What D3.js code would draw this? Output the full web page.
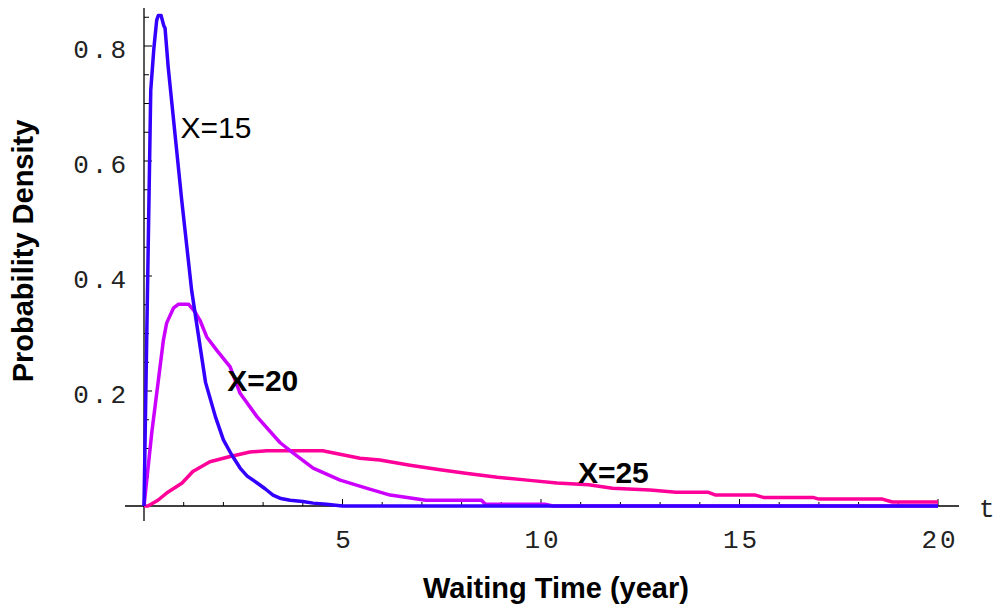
<!DOCTYPE html>
<html><head><meta charset="utf-8">
<script src="https://cdn.jsdelivr.net/npm/d3@7"></script>
<style>html,body{margin:0;padding:0;background:#fff;}</style>
</head><body>
<script>
// ---- data ----
const seriesNames = ["X=15", "X=20", "X=25"];
const seriesColors = ["#3300ff", "#cc00ff", "#ff0099"];
const x15 = [[0,0],[0.17,0.723],[0.25,0.797],[0.32,0.845],[0.36,0.853],[0.43,0.853],[0.5,0.835],[0.53,0.831],[0.61,0.763],[0.95,0.532],[1.2,0.375],[1.55,0.215],[1.8,0.155],[2.0,0.115],[2.2,0.09],[2.42,0.066],[2.6,0.052],[2.85,0.04],[3.05,0.03],[3.25,0.019],[3.45,0.013],[3.68,0.01],[4.0,0.008],[4.26,0.005],[4.6,0.003],[5.0,0],[20,0]];
const x20 = [[0,0],[0.2,0.13],[0.49,0.289],[0.57,0.318],[0.74,0.344],[0.87,0.351],[1.12,0.351],[1.28,0.338],[1.41,0.323],[1.58,0.294],[1.83,0.271],[2.17,0.242],[2.42,0.196],[2.85,0.155],[3.43,0.11],[3.76,0.092],[4.26,0.066],[4.94,0.045],[5.6,0.031],[6.2,0.019],[7.1,0.01],[8.5,0.01],[8.6,0.003],[10.1,0.003],[10.3,0],[20,0]];
const x25 = [[0,0],[0.1,0],[0.35,0.01],[0.6,0.024],[0.96,0.04],[1.23,0.06],[1.66,0.077],[2.17,0.086],[2.67,0.094],[3.1,0.096],[4.5,0.096],[5.0,0.089],[5.44,0.083],[5.94,0.08],[6.7,0.071],[7.46,0.063],[8.1,0.057],[8.9,0.05],[9.65,0.045],[10.4,0.04],[11.2,0.037],[11.8,0.031],[12.75,0.028],[13.4,0.024],[14.2,0.024],[14.4,0.019],[15.4,0.019],[15.6,0.015],[16.85,0.015],[17.0,0.012],[18.6,0.012],[18.85,0.007],[20,0.007]];
const xMajorTicks = [5, 10, 15, 20];
const xMinorTicks = d3.range(1, 21);
const yMajorTicks = [0.2, 0.4, 0.6, 0.8];
const yMinorTicks = d3.range(1, 18).map(i => i * 0.05);
const xTitle = "Waiting Time (year)";
const yTitle = "Probability Density";
const xVarLabel = "t";
const curveLabels = [
  {text: "X=15", t: 0.92, v: 0.64, bold: false},
  {text: "X=20", t: 2.1, v: 0.2, bold: true},
  {text: "X=25", t: 10.93, v: 0.04, bold: true}
];

// ---- chart ----
const W = 1002, H = 611;
const svg = d3.select("body").append("svg").attr("width", W).attr("height", H);
const x = d3.scaleLinear().domain([0, 20]).range([144, 938]);
const y = d3.scaleLinear().domain([0, 0.8]).range([506, 46]);
const monoFont = "'Liberation Mono', 'DejaVu Sans Mono', monospace";
const sansFont = "'Liberation Sans', Arial, sans-serif";

// axes lines
svg.append("line").attr("x1", 125).attr("x2", 959).attr("y1", y(0)).attr("y2", y(0))
  .attr("stroke", "#000").attr("stroke-width", 1.3);
svg.append("line").attr("x1", x(0)).attr("x2", x(0)).attr("y1", 8).attr("y2", 521)
  .attr("stroke", "#000").attr("stroke-width", 1.3);

// x ticks
svg.selectAll(".xmin").data(xMinorTicks).enter().append("line")
  .attr("x1", d => x(d)).attr("x2", d => x(d))
  .attr("y1", y(0)).attr("y2", d => y(0) - (xMajorTicks.includes(d) ? 7 : 4))
  .attr("stroke", "#000").attr("stroke-width", 1);
svg.selectAll(".xlab").data(xMajorTicks).enter().append("text")
  .attr("x", d => x(d) + 2).attr("y", 548)
  .attr("text-anchor", "middle")
  .attr("font-family", monoFont).attr("fill", "#222")
  .attr("font-size", 26).attr("letter-spacing", 3)
  .text(d => d);

// y ticks
svg.selectAll(".ymin").data(yMinorTicks).enter().append("line")
  .attr("x1", x(0)).attr("x2", (d, i) => x(0) + ((i + 1) % 4 === 0 ? 8 : 5))
  .attr("y1", d => y(d)).attr("y2", d => y(d))
  .attr("stroke", "#000").attr("stroke-width", 1);
svg.selectAll(".ylab").data(yMajorTicks).enter().append("text")
  .attr("x", 129).attr("y", d => y(d) + 12)
  .attr("text-anchor", "end")
  .attr("font-family", monoFont).attr("fill", "#222")
  .attr("font-size", 26).attr("letter-spacing", 3)
  .text(d => d3.format(".1f")(d));

// t label
svg.append("text").attr("x", 979).attr("y", 517)
  .attr("font-family", monoFont).attr("fill", "#222")
  .attr("font-size", 26).text(xVarLabel);

// curves
const line = d3.line().x(d => x(d[0])).y(d => y(d[1]));
const all = [x15, x20, x25];
[2, 1, 0].forEach(i => {
  svg.append("path").datum(all[i]).attr("d", line)
    .attr("fill", "none").attr("stroke", seriesColors[i])
    .attr("stroke-width", 3.5).attr("stroke-linejoin", "round");
});

// curve labels
svg.selectAll(".clab").data(curveLabels).enter().append("text")
  .attr("x", d => x(d.t)).attr("y", d => y(d.v))
  .attr("font-family", sansFont)
  .attr("font-size", 30)
  .attr("font-weight", d => d.bold ? "bold" : "normal")
  .text(d => d.text);

// axis titles
svg.append("text").attr("x", 556).attr("y", 598)
  .attr("text-anchor", "middle")
  .attr("font-family", sansFont)
  .attr("font-size", 29).attr("font-weight", "bold")
  .text(xTitle);
svg.append("text")
  .attr("transform", "translate(33,251) rotate(-90)")
  .attr("text-anchor", "middle")
  .attr("font-family", sansFont)
  .attr("font-size", 29).attr("font-weight", "bold")
  .text(yTitle);
</script>
</body></html>
